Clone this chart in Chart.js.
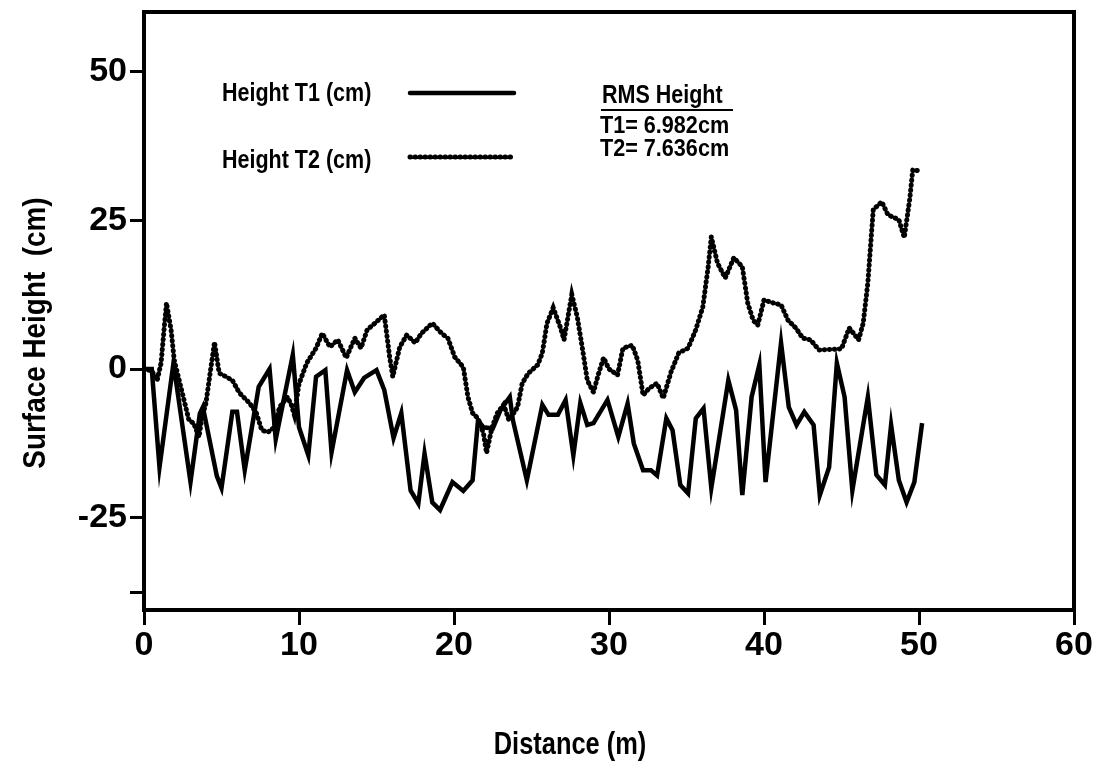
<!DOCTYPE html>
<html>
<head>
<meta charset="utf-8">
<script src="https://cdn.jsdelivr.net/npm/chart.js@4"></script>
<style>
  html, body { margin: 0; padding: 0; background: #fff; }
  #wrap { width: 1101px; height: 773px; }
</style>
</head>
<body>
<div id="wrap"><canvas id="miGrafica" width="1101" height="773"></canvas></div>
<script>
// distancia (m) y altura (cm)
const t1X = [0, 0.5, 1.0, 1.9, 3.0, 3.6, 3.8, 4.7, 5.0, 5.7, 6.0, 6.5, 7.4, 8.1, 8.5, 9.6, 10.0, 10.6, 11.1, 11.7,
  12.1, 13.1, 13.6, 14.2, 15.0, 15.5, 16.1, 16.6, 17.2, 17.7, 18.1, 18.6, 19.1, 19.9, 20.6, 21.2, 21.55, 21.9, 22.5, 23.0,
  23.6, 23.8, 24.7, 25.7, 26.1, 26.7, 27.2, 27.7, 28.15, 28.6, 29.0, 29.9, 30.6, 31.2, 31.6, 32.2, 32.7, 33.1, 33.7, 34.1,
  34.6, 35.1, 35.6, 36.1, 36.6, 37.7, 38.2, 38.6, 39.2, 39.7, 40.1, 41.1, 41.6, 42.1, 42.6, 43.2, 43.6, 44.2, 44.7, 45.2,
  45.7, 46.7, 47.25, 47.8, 48.2, 48.7, 49.2, 49.7, 50.2]
const t1Y = [0, 0, -16.5, 1, -19, -7.5, -6.4, -18, -20, -7.2, -7.2, -17, -3, 0, -11.8, 2.4, -9.8, -14.5, -1.3, -0.2,
  -14, -0.2, -3.9, -1.5, -0.2, -3.5, -11.6, -7.4, -20.4, -22.6, -14.2, -22.4, -23.7, -19, -20.5, -18.7, -8.6, -9.8, -10, -6.9,
  -4.7, -8.6, -18.7, -6, -7.7, -7.7, -5.2, -14.5, -5.7, -9.4, -9.1, -5.2, -11.4, -5.8, -12.5, -17, -17, -17.9, -8.3, -10.3,
  -19.5, -20.9, -8.3, -6.6, -20, -1.9, -6.9, -21.2, -4.7, 0.7, -19, 4.4, -6.4, -9.4, -7.2, -9.4, -21.2, -16.5, 1, -4.7,
  -20.4, -4.7, -17.8, -19.5, -9.4, -18.7, -22.4, -19, -9.1]

const t2X = [0, 0.5, 0.85, 1.1, 1.45, 1.75, 1.95, 2.9, 3.2, 3.55, 3.75, 4.0, 4.2, 4.55, 4.85, 5.3, 5.7, 6.15, 6.8, 7.25,
  7.6, 8.0, 8.4, 8.75, 9.25, 9.5, 9.7, 10.0, 10.5, 11.1, 11.5, 12.0, 12.5, 13.05, 13.6, 14.0, 14.4, 14.9, 15.5, 15.85,
  16.05, 16.5, 16.95, 17.5, 17.9, 18.6, 19.2, 19.6, 20.05, 20.6, 20.9, 21.2, 21.55, 21.9, 22.1, 22.45, 22.8, 23.2, 23.55, 24.1,
  24.4, 24.8, 25.4, 25.7, 26.0, 26.4, 26.85, 27.1, 27.6, 27.95, 28.3, 28.6, 29.0, 29.3, 29.65, 30.0, 30.55, 30.9, 31.5, 31.85,
  32.2, 32.6, 33.1, 33.5, 34.0, 34.5, 35.1, 35.6, 36.05, 36.4, 36.6, 37.0, 37.5, 38.05, 38.6, 38.95, 39.3, 39.6, 40.0, 40.6,
  41.1, 41.55, 42.05, 42.5, 43.0, 43.55, 45.0, 45.5, 46.1, 46.4, 46.7, 47.05, 47.6, 48.0, 48.7, 49.05, 49.4, 49.6, 50.0]
const t2Y = [0, -0.3, -1.9, 1, 11.1, 6.5, 1.5, -8.6, -9.1, -11.4, -8, -5.7, -1.9, 4.5, -0.7, -1.3, -1.9, -4, -5.7, -7.4,
  -10.3, -10.6, -9.8, -6.4, -4.7, -6, -7.7, -2.5, 1, 3.5, 6, 3.7, 4.9, 1.9, 5.2, 3.5, 6.6, 7.7, 9.1, 2,
  -1.3, 3.7, 5.7, 4.4, 6, 7.7, 6, 5.2, 2, 0.3, -4.7, -7.4, -8.3, -10.8, -14.1, -9.8, -7.4, -6, -8.6, -6.4,
  -2.4, -0.7, 0.7, 2.7, 7.7, 10.3, 7.1, 4.9, 12.5, 8.8, 3.2, -1.9, -3.9, -1, 1.9, 0, -1, 3.5, 4, 1.5,
  -4.4, -3.2, -2.4, -4.9, -0.5, 2.7, 3.5, 6.6, 10.4, 17.2, 22.2, 17.8, 15.3, 18.7, 17.2, 11.1, 8.2, 7.4, 11.6, 11.1,
  10.8, 8.2, 6.9, 5.2, 4.9, 3.2, 3.4, 6.9, 4.9, 7.7, 14.5, 26.8, 28.1, 25.9, 25.1, 22.1, 28.5, 33.5, 33.3]

const xTicks = [0, 10, 20, 30, 40, 50, 60]
const yTicks = [-37.5, -25, 0, 25, 50]
const yLabels = ["", "-25", "0", "25", "50"]

const nombres = ["Height T1 (cm)", "Height T2 (cm)"]
const rmsTexto = ["RMS Height", "T1= 6.982cm", "T2= 7.636cm"]

const FUENTE = "Liberation Sans, Arial, sans-serif"

function puntos(xs, ys) {
    return xs.map((x, i) => ({ x: x, y: ys[i] }))
}

function texto(ctx, str, x, y, size, escala, align) {
    ctx.save()
    ctx.font = "bold " + size + "px " + FUENTE
    ctx.textBaseline = "middle"
    ctx.textAlign = align || "left"
    ctx.translate(x, y)
    ctx.scale(escala, 1)
    ctx.fillText(str, 0, 0)
    ctx.restore()
}

const extras = {
    id: "extras",
    afterDatasetsDraw(chart) {
        const ctx = chart.ctx
        const a = chart.chartArea
        ctx.save()
        ctx.strokeStyle = "#000"
        ctx.fillStyle = "#000"
        ctx.lineWidth = 4
        ctx.strokeRect(a.left, a.top, a.right - a.left, a.bottom - a.top)

        // leyenda
        texto(ctx, nombres[0], 222, 94, 25, 0.86)
        texto(ctx, nombres[1], 222, 161, 25, 0.86)
        ctx.lineWidth = 4.5
        ctx.lineCap = "round"
        ctx.beginPath()
        ctx.moveTo(410, 93)
        ctx.lineTo(514, 93)
        ctx.stroke()
        ctx.lineWidth = 5
        ctx.setLineDash([0.5, 4.5])
        ctx.beginPath()
        ctx.moveTo(410, 157)
        ctx.lineTo(514, 157)
        ctx.stroke()
        ctx.setLineDash([])

        texto(ctx, rmsTexto[0], 602, 96, 25, 0.86)
        ctx.lineWidth = 2
        ctx.lineCap = "butt"
        ctx.beginPath()
        ctx.moveTo(601, 110)
        ctx.lineTo(733, 110)
        ctx.stroke()
        texto(ctx, rmsTexto[1], 600, 126, 24, 0.9)
        texto(ctx, rmsTexto[2], 600, 149, 24, 0.9)

        // titulos de ejes
        texto(ctx, "Distance (m)", 570, 745, 31, 0.82, "center")
        ctx.save()
        ctx.translate(36, 333)
        ctx.rotate(-Math.PI / 2)
        texto(ctx, "Surface Height  (cm)", 0, 0, 31, 0.9, "center")
        ctx.restore()
        ctx.restore()
    }
}

const ctx = document.getElementById("miGrafica").getContext("2d")
new Chart(ctx, {
    type: "scatter",
    data: {
        datasets: [
            {
                label: nombres[0],
                data: puntos(t1X, t1Y),
                showLine: true,
                borderColor: "#000",
                borderWidth: 4.5,
                borderJoinStyle: "miter",
                pointRadius: 0,
                fill: false
            },
            {
                label: nombres[1],
                data: puntos(t2X, t2Y),
                showLine: true,
                borderColor: "#000",
                borderWidth: 5,
                borderDash: [0.5, 4.5],
                borderCapStyle: "round",
                pointRadius: 0,
                fill: false
            }
        ]
    },
    options: {
        responsive: false,
        animation: false,
        layout: { padding: { left: 0, right: 27, top: 12, bottom: 0 } },
        plugins: { legend: { display: false }, tooltip: { enabled: false } },
        scales: {
            x: {
                type: "linear",
                min: 0,
                max: 60,
                afterBuildTicks: (scale) => { scale.ticks = xTicks.map(v => ({ value: v })) },
                afterFit: (scale) => { scale.height = 163 },
                grid: { drawOnChartArea: false, drawTicks: true, tickLength: 15, lineWidth: 3, color: "#000" },
                border: { display: false },
                ticks: { color: "#000", padding: 0, maxRotation: 0, font: { family: FUENTE, size: 34, weight: "bold" } }
            },
            y: {
                type: "linear",
                min: -40.5,
                max: 60,
                afterBuildTicks: (scale) => { scale.ticks = yTicks.map(v => ({ value: v })) },
                afterFit: (scale) => {
                    scale.width = 144
                    scale.paddingTop = 0
                    scale.paddingBottom = 0
                },
                grid: { drawOnChartArea: false, drawTicks: true, tickLength: 14, lineWidth: 3, color: "#000" },
                border: { display: false },
                ticks: {
                    color: "#000",
                    padding: 3,
                    font: { family: FUENTE, size: 34, weight: "bold" },
                    callback: (value) => yLabels[yTicks.indexOf(value)]
                }
            }
        }
    },
    plugins: [extras]
})
</script>
</body>
</html>
